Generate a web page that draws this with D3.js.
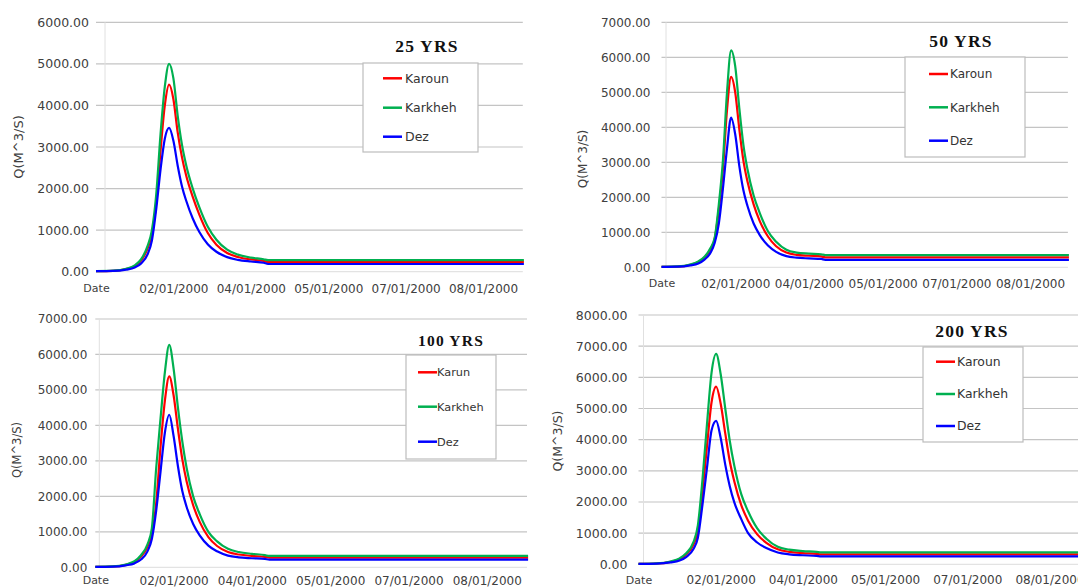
<!DOCTYPE html>
<html>
<head>
<meta charset="utf-8">
<script src="https://cdn.jsdelivr.net/npm/d3@7"></script>
<style>
body { margin: 0; background: #fff; }
svg { display: block; }
.tick text { fill: #404040; font-family: "DejaVu Sans", sans-serif; }
</style>
</head>
<body>
<script>
// hourly hydrographs, sampled at these hours (x labels every 36 h)
var hours = [0, 8, 14, 18, 21, 24, 26, 28, 30, 32, 34, 36, 38, 40, 42, 45, 48, 52, 56, 61, 66, 72, 78, 80, 199];
var dateTicks = [0, 36, 72, 108, 144, 180];
var dateLabels = ["Date", "02/01/2000", "04/01/2000", "05/01/2000", "07/01/2000", "08/01/2000"];
var colors = ["#ff0000", "#00b050", "#0000ff"];

// 25 YRS
var karoun25  = [15, 22, 65, 135, 270, 560, 900, 1650, 2900, 4000, 4500, 4150, 3350, 2750, 2300, 1800, 1380, 930, 650, 450, 355, 295, 260, 235, 235];
var karkheh25 = [15, 25, 70, 150, 300, 620, 1000, 1850, 3300, 4450, 5000, 4650, 3750, 3050, 2550, 2000, 1560, 1080, 770, 530, 410, 340, 300, 280, 280];
var dez25     = [12, 18, 50, 100, 200, 420, 750, 1500, 2450, 3200, 3460, 3150, 2550, 2050, 1700, 1280, 960, 660, 480, 350, 285, 245, 215, 185, 185];

// 50 YRS
var karoun50  = [15, 22, 70, 150, 280, 520, 820, 1650, 2800, 4500, 5440, 5000, 3950, 3050, 2450, 1800, 1320, 880, 600, 420, 355, 330, 310, 285, 285];
var karkheh50 = [15, 25, 80, 170, 300, 560, 850, 1800, 3050, 5000, 6200, 5750, 4550, 3500, 2800, 2050, 1550, 1030, 730, 500, 420, 390, 370, 350, 350];
var dez50     = [12, 18, 55, 110, 220, 420, 700, 1250, 2250, 3400, 4280, 3800, 2900, 2200, 1750, 1250, 920, 620, 440, 320, 275, 255, 240, 215, 215];

// 100 YRS
var karun100   = [15, 22, 70, 150, 300, 580, 950, 1800, 3400, 4700, 5380, 4850, 3900, 3050, 2420, 1750, 1280, 850, 600, 430, 360, 320, 295, 275, 275];
var karkheh100 = [15, 25, 80, 170, 340, 650, 1100, 2800, 4200, 5500, 6270, 5600, 4500, 3550, 2800, 2000, 1500, 1000, 730, 520, 430, 380, 345, 320, 320];
var dez100     = [12, 18, 55, 110, 220, 450, 800, 1600, 2700, 3800, 4300, 3700, 2850, 2150, 1700, 1220, 900, 610, 450, 330, 280, 255, 235, 215, 215];

// 200 YRS
var karoun200  = [15, 25, 80, 165, 320, 620, 1050, 2300, 3800, 5200, 5700, 5150, 4200, 3300, 2650, 1900, 1400, 960, 690, 480, 400, 360, 335, 320, 320];
var karkheh200 = [15, 30, 90, 190, 360, 700, 1250, 2700, 4500, 6150, 6750, 6100, 5000, 3950, 3150, 2250, 1700, 1150, 820, 560, 470, 425, 400, 385, 385];
var dez200     = [12, 20, 60, 120, 240, 480, 850, 1900, 3100, 4300, 4600, 4050, 3200, 2500, 1980, 1450, 1000, 700, 520, 380, 320, 290, 270, 255, 255];

var panels = [
  {title: "25 YRS", names: ["Karoun", "Karkheh", "Dez"], series: [karoun25, karkheh25, dez25], yMax: 6000,
   left: 96, right: 522.8, top: 22.3, bottom: 271.7, axisOff: 9, pad: 7, tickFs: 12.5, labGap: 13,
   yTitle: [18, 147], yTitleFs: 13, tx: 427, ty: 52, titleFs: 17.5,
   leg: {x: 363, y: 63, w: 115, h: 89, lx: 383, tx: 405, rows: [78.3, 107.7, 136.7], fs: 12.5}},
  {title: "50 YRS", names: ["Karoun", "Karkheh", "Dez"], series: [karoun50, karkheh50, dez50], yMax: 7000,
   left: 661.5, right: 1067.9, top: 22.3, bottom: 267.3, axisOff: 4.5, pad: 11, tickFs: 12, labGap: 12,
   yTitle: [583, 159], yTitleFs: 12, tx: 961, ty: 46.5, titleFs: 17.5,
   leg: {x: 905, y: 57, w: 120, h: 100, lx: 929, tx: 950, rows: [74, 107.3, 140.7], fs: 12}},
  {title: "100 YRS", names: ["Karun", "Karkheh", "Dez"], series: [karun100, karkheh100, dez100], yMax: 7000,
   left: 95.3, right: 527, top: 319, bottom: 567.3, axisOff: 4, pad: 8, tickFs: 12, labGap: 9,
   yTitle: [17, 450], yTitleFs: 11.5, tx: 451, ty: 345.5, titleFs: 15.5,
   leg: {x: 406, y: 355, w: 90, h: 104, lx: 418, tx: 437, rows: [372.3, 406.7, 441.7], fs: 11.3}},
  {title: "200 YRS", names: ["Karoun", "Karkheh", "Dez"], series: [karoun200, karkheh200, dez200], yMax: 8000,
   left: 638.5, right: 1091.7, top: 315, bottom: 564.3, axisOff: 5, pad: 11, tickFs: 12.5, labGap: 11.5,
   yTitle: [558, 441], yTitleFs: 12.5, tx: 972, ty: 336.5, titleFs: 17.5,
   leg: {x: 923, y: 347, w: 100, h: 95, lx: 936, tx: 957, rows: [361.7, 394, 426], fs: 12.4}}
];

var svg = d3.select("body").append("svg")
    .attr("width", 1078)
    .attr("height", 588);

panels.forEach(function(p) {
  var x = d3.scaleLinear().domain([0, 198.5]).range([p.left, p.right]);
  var y = d3.scaleLinear().domain([0, p.yMax]).range([p.bottom, p.top]);
  var yTicks = d3.range(0, p.yMax + 1, 1000);
  var g = svg.append("g");

  // gridlines
  g.selectAll(".grid")
    .data(yTicks)
    .enter().append("line")
      .attr("x1", p.left)
      .attr("x2", p.right)
      .attr("y1", function(d) { return y(d); })
      .attr("y2", function(d) { return y(d); })
      .attr("stroke", function(d) { return d === 0 ? "#e3e3e3" : "#c4c4c4"; })
      .attr("stroke-width", 1.2);

  // faint value axis line
  g.append("line")
    .attr("x1", p.left + p.axisOff).attr("x2", p.left + p.axisOff)
    .attr("y1", p.top).attr("y2", p.bottom)
    .attr("stroke", "#e0e0e0");

  // y axis labels
  var yAxis = g.append("g")
    .attr("transform", "translate(" + p.left + ",0)")
    .call(d3.axisLeft(y).tickValues(yTicks).tickFormat(d3.format(".2f")).tickSize(0).tickPadding(p.pad));
  yAxis.select(".domain").remove();
  yAxis.selectAll("text").style("font-size", p.tickFs + "px");

  // x axis labels
  var xAxis = g.append("g")
    .attr("transform", "translate(0," + p.bottom + ")")
    .call(d3.axisBottom(x).tickValues(dateTicks)
      .tickFormat(function(d, i) { return dateLabels[i]; })
      .tickSize(0).tickPadding(p.labGap));
  xAxis.select(".domain").remove();
  xAxis.selectAll("text")
    .style("font-size", function(d, i) { return i === 0 ? "11px" : "12px"; });

  // y title
  g.append("text")
    .attr("transform", "translate(" + p.yTitle[0] + "," + p.yTitle[1] + ") rotate(-90)")
    .attr("text-anchor", "middle")
    .attr("dy", "0.35em")
    .style("font-family", "DejaVu Sans, sans-serif")
    .style("font-size", p.yTitleFs + "px")
    .attr("fill", "#404040")
    .text("Q(M^3/S)");

  // hydrograph lines
  var line = d3.line()
    .x(function(d, i) { return x(hours[i]); })
    .y(function(d) { return y(d); })
    .curve(d3.curveMonotoneX);

  g.selectAll(".flow")
    .data(p.series)
    .enter().append("path")
      .attr("d", line)
      .attr("fill", "none")
      .attr("stroke", function(d, i) { return colors[i]; })
      .attr("stroke-width", 2.2);

  // title
  g.append("text")
    .attr("x", p.tx)
    .attr("y", p.ty)
    .attr("text-anchor", "middle")
    .style("font-family", "Liberation Serif, Times New Roman, serif")
    .style("font-weight", "bold")
    .style("font-size", p.titleFs + "px")
    .style("letter-spacing", "1.2px")
    .attr("fill", "#111")
    .text(p.title);

  // legend
  var L = p.leg;
  g.append("rect")
    .attr("x", L.x).attr("y", L.y)
    .attr("width", L.w).attr("height", L.h)
    .attr("fill", "#fff")
    .attr("stroke", "#bdbdbd")
    .attr("stroke-width", 1.2);

  g.selectAll(".legline")
    .data(p.names)
    .enter().append("line")
      .attr("x1", L.lx).attr("x2", L.lx + 19)
      .attr("y1", function(d, i) { return L.rows[i]; })
      .attr("y2", function(d, i) { return L.rows[i]; })
      .attr("stroke", function(d, i) { return colors[i]; })
      .attr("stroke-width", 2.5);

  g.selectAll(".legtext")
    .data(p.names)
    .enter().append("text")
      .attr("x", L.tx)
      .attr("y", function(d, i) { return L.rows[i]; })
      .attr("dy", "0.36em")
      .style("font-family", "DejaVu Sans, sans-serif")
      .style("font-size", L.fs + "px")
      .attr("fill", "#333")
      .text(function(d) { return d; });
});
</script>
</body>
</html>
